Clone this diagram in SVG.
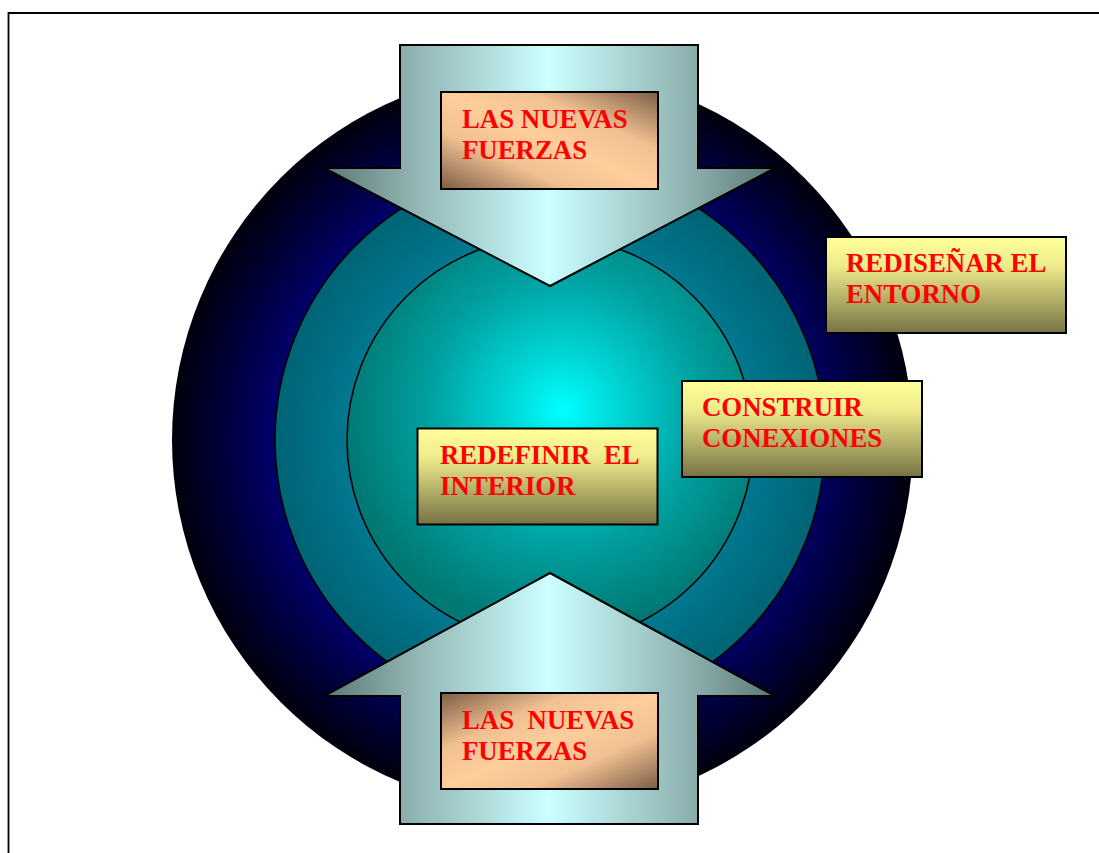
<svg xmlns="http://www.w3.org/2000/svg" width="1099" height="853" viewBox="0 0 1099 853">
<defs>
<radialGradient id="gOuter" gradientUnits="userSpaceOnUse" cx="542.5" cy="440" r="370.5">
<stop offset="0" stop-color="#000080"/>
<stop offset="0.72" stop-color="#00006c"/>
<stop offset="1" stop-color="#00000c"/>
</radialGradient>
<radialGradient id="gMid" gradientUnits="userSpaceOnUse" cx="550" cy="440" r="275">
<stop offset="0" stop-color="#0088a0"/>
<stop offset="0.75" stop-color="#00778e"/>
<stop offset="1" stop-color="#006474"/>
</radialGradient>
<radialGradient id="gInner" gradientUnits="userSpaceOnUse" cx="563" cy="410" r="220">
<stop offset="0" stop-color="#00ffff"/>
<stop offset="0.25" stop-color="#00d6d6"/>
<stop offset="0.6" stop-color="#00a2a2"/>
<stop offset="1" stop-color="#007873"/>
</radialGradient>
<linearGradient id="gArrow" gradientUnits="userSpaceOnUse" x1="323" y1="0" x2="775" y2="0">
<stop offset="0" stop-color="#5a7775"/>
<stop offset="0.2" stop-color="#90b4b3"/>
<stop offset="0.5" stop-color="#ccffff"/>
<stop offset="0.8" stop-color="#90b4b3"/>
<stop offset="1" stop-color="#5a7775"/>
</linearGradient>
<linearGradient id="gPeachA" x1="0" y1="1" x2="1" y2="0">
<stop offset="0" stop-color="#7c5e46"/>
<stop offset="0.3" stop-color="#f2c193"/>
<stop offset="0.5" stop-color="#fdcd9b"/>
<stop offset="0.7" stop-color="#f2c193"/>
<stop offset="1" stop-color="#7c5e46"/>
</linearGradient>
<linearGradient id="gPeachB" x1="0" y1="0" x2="1" y2="1">
<stop offset="0" stop-color="#7c5e46"/>
<stop offset="0.3" stop-color="#f2c193"/>
<stop offset="0.5" stop-color="#fdcd9b"/>
<stop offset="0.7" stop-color="#f2c193"/>
<stop offset="1" stop-color="#7c5e46"/>
</linearGradient>
<linearGradient id="gYellow" x1="0" y1="0" x2="0" y2="1">
<stop offset="0" stop-color="#ffff99"/>
<stop offset="0.3" stop-color="#eeeb8c"/>
<stop offset="1" stop-color="#777244"/>
</linearGradient>
</defs>
<style>
.lbl{font-family:"Liberation Serif","Times New Roman",serif;font-weight:bold;font-size:26.8px;fill:#ff0000}
.box{stroke:#000;stroke-width:2}
.arrow{fill:url(#gArrow);stroke:#000;stroke-width:2;stroke-linejoin:miter}
.ring{stroke:#000;stroke-width:1.6}
</style>
<rect width="1099" height="853" fill="#ffffff"/>
<path d="M8.5,853 V13 H1099" fill="none" stroke="#000" stroke-width="1.8"/>
<g id="circles">
<circle cx="542.5" cy="440" r="370.5" fill="url(#gOuter)"/>
<circle class="ring" cx="550" cy="440" r="275" fill="url(#gMid)"/>
<circle class="ring" cx="550" cy="440" r="203" fill="url(#gInner)"/>
</g>
<g id="connectors">
<polygon class="arrow" points="400,45 698,45 698,168 775,168 550,286 324,168 400,168"/>
<polygon class="arrow" points="550,573 775,696 698,696 698,824 400,824 400,696 324,696"/>
</g>
<g id="node-fuerzas-top">
<rect class="box" x="441" y="92" width="217" height="97" fill="url(#gPeachA)"/>
<text class="lbl" x="462" y="128">LAS NUEVAS</text>
<text class="lbl" x="462" y="159">FUERZAS</text>
</g>
<g id="node-fuerzas-bottom">
<rect class="box" x="441" y="693" width="217" height="96" fill="url(#gPeachB)"/>
<text class="lbl" x="462" y="729" xml:space="preserve">LAS  NUEVAS</text>
<text class="lbl" x="462" y="760">FUERZAS</text>
</g>
<g id="node-redisenar">
<rect class="box" x="826" y="237" width="240" height="96" fill="url(#gYellow)"/>
<text class="lbl" x="846" y="272">REDISEÑAR EL</text>
<text class="lbl" x="846" y="303">ENTORNO</text>
</g>
<g id="node-construir">
<rect class="box" x="682" y="381" width="240" height="96" fill="url(#gYellow)"/>
<text class="lbl" x="702" y="416">CONSTRUIR</text>
<text class="lbl" x="702" y="447">CONEXIONES</text>
</g>
<g id="node-redefinir">
<rect class="box" x="417.5" y="428.5" width="240" height="96" fill="url(#gYellow)"/>
<text class="lbl" x="440" y="464" xml:space="preserve">REDEFINIR  EL</text>
<text class="lbl" x="440" y="495">INTERIOR</text>
</g>
</svg>
